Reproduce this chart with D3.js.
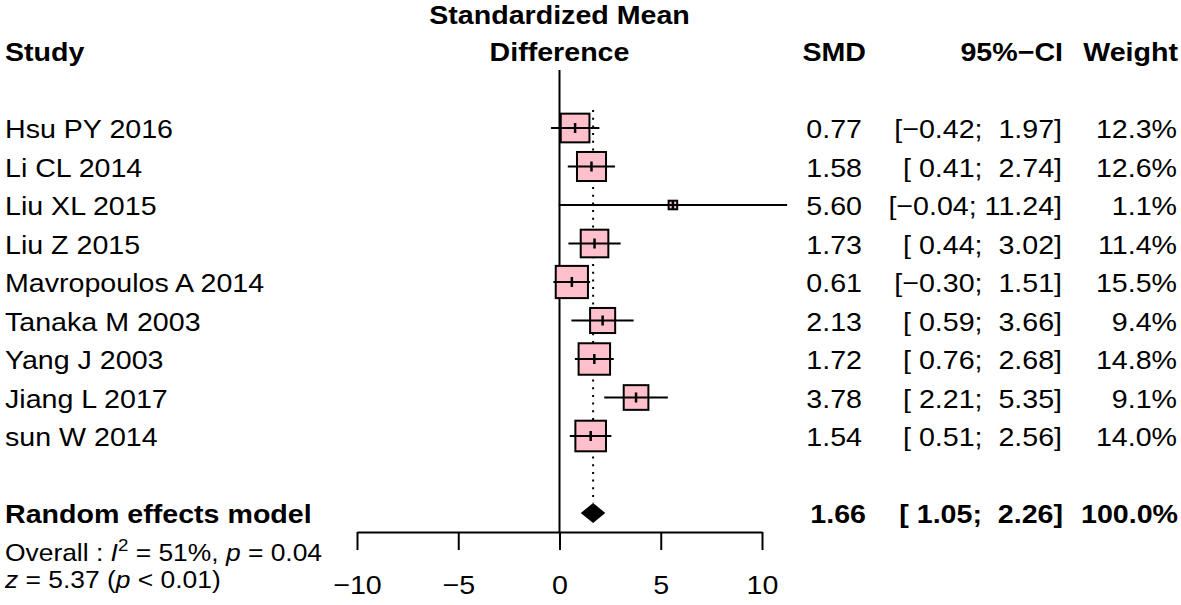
<!DOCTYPE html>
<html><head><meta charset="utf-8">
<script src="https://cdn.jsdelivr.net/npm/d3@7"></script>
<style>
body{margin:0;background:#fff;}
text{font-family:"Liberation Sans",Arial,Helvetica,sans-serif;white-space:pre;fill:#000;}
</style></head>
<body><svg id="c" width="1181" height="605"></svg>
<script>
const studies = ["Hsu PY 2016","Li CL 2014","Liu XL 2015","Liu Z 2015","Mavropoulos A 2014","Tanaka M 2003","Yang J 2003","Jiang L 2017","sun W 2014"];
const smd    = [0.77, 1.58, 5.60, 1.73, 0.61, 2.13, 1.72, 3.78, 1.54];
const lower  = [-0.42, 0.41, -0.04, 0.44, -0.30, 0.59, 0.76, 2.21, 0.51];
const upper  = [1.97, 2.74, 11.24, 3.02, 1.51, 3.66, 2.68, 5.35, 2.56];
const weight = [12.3, 12.6, 1.1, 11.4, 15.5, 9.4, 14.8, 9.1, 14.0];
const pooled = {label:"Random effects model", est:1.66, lo:1.05, hi:2.26, w:100.0};
const tickValues = [-10,-5,0,5,10];
const headers = {study:"Study", effect1:"Standardized Mean", effect2:"Difference", smd:"SMD", ci:"95%\u2212CI", weight:"Weight"};
const hetLine = ["Overall : ", "I", "2", " = 51%, ", "p", " = 0.04"];
const testLine = ["z", " = 5.37 (", "p", " < 0.01)"];

const svg = d3.select("#c");
const FS = 26, SX = 1.1;
const x = d3.scaleLinear().domain([-10,10]).range([357,762]);
const rowY = d3.scaleLinear().domain([0,1]).range([128,166.5]);
const boxK = 8.18;

const fmt = v => (v<0?"\u2212":"") + Math.abs(v).toFixed(2);
const pad = (s,n) => " ".repeat(Math.max(0,n-s.length)) + s;
const loLen = d3.max(lower.concat([pooled.lo]).map(v=>fmt(v).length));
const hiLen = d3.max(upper.concat([pooled.hi]).map(v=>fmt(v).length));
const ciStr = (l,h) => "[" + pad(fmt(l),loLen) + "; " + pad(fmt(h),hiLen) + "]";

function txt(xp, yp, s, anchor, bold, size){
  const g = svg.append("g").attr("transform",`translate(${xp},${yp}) scale(${SX},1)`);
  return g.append("text").attr("text-anchor",anchor||"start")
    .attr("font-size",size||FS).attr("font-weight",bold?"bold":"normal").text(s);
}

// headers
txt(5,61,headers.study,"start",true);
txt(x(0),24,headers.effect1,"middle",true);
txt(x(0),61,headers.effect2,"middle",true);
txt(866,61,headers.smd,"end",true);
txt(1063,61,headers.ci,"end",true);
txt(1178,61,headers.weight,"end",true);

// zero line
svg.append("line").attr("x1",x(0)).attr("x2",x(0)).attr("y1",70).attr("y2",532)
  .attr("stroke","#000").attr("stroke-width",2);
// pooled dotted line
svg.append("line").attr("x1",x(pooled.est)).attr("x2",x(pooled.est)).attr("y1",110).attr("y2",503)
  .attr("stroke","#000").attr("stroke-width",2).attr("stroke-dasharray","2,5.7");

// studies
studies.forEach((s,i)=>{
  const cy = rowY(i);
  const side = boxK*Math.sqrt(weight[i]);
  svg.append("rect").attr("x",x(smd[i])-side/2).attr("y",cy-side/2)
    .attr("width",side).attr("height",side).attr("fill","#FFC0CB")
    .attr("stroke","#000").attr("stroke-width",2);
  svg.append("line").attr("x1",x(lower[i])).attr("x2",x(upper[i])).attr("y1",cy).attr("y2",cy)
    .attr("stroke","#000").attr("stroke-width",2);
  svg.append("line").attr("x1",x(smd[i])).attr("x2",x(smd[i])).attr("y1",cy-5).attr("y2",cy+5)
    .attr("stroke","#000").attr("stroke-width",2.5);
  const by = cy+10;
  txt(5,by,s,"start",false);
  txt(862,by,smd[i].toFixed(2),"end",false);
  txt(1062,by,ciStr(lower[i],upper[i]),"end",false);
  txt(1177,by,weight[i].toFixed(1)+"%","end",false);
});

// pooled
const py = rowY(10);
svg.append("path").attr("d",`M${x(pooled.lo)},${py} L${x(pooled.est)},${py-10} L${x(pooled.hi)},${py} L${x(pooled.est)},${py+10} Z`)
  .attr("fill","#000");
txt(5,py+10,pooled.label,"start",true);
txt(866,py+10,pooled.est.toFixed(2),"end",true);
txt(1063,py+10,ciStr(pooled.lo,pooled.hi),"end",true);
txt(1178,py+10,pooled.w.toFixed(1)+"%","end",true);

// axis
const ax = svg.append("g").attr("transform","translate(0,532)")
  .call(d3.axisBottom(x).tickValues(tickValues).tickSize(18).tickSizeOuter(0).tickPadding(26)
    .tickFormat(d=>d<0?"\u2212"+Math.abs(d):String(d)));
ax.selectAll("path,line").attr("stroke","#000").attr("stroke-width",2);
ax.selectAll(".tick text").attr("font-size",FS).attr("fill","#000")
  .attr("font-family","'Liberation Sans',Arial,Helvetica,sans-serif")
  .attr("transform",`scale(${SX},1)`);

// heterogeneity lines
function mixed(xp,yp,parts,styles){
  const g = svg.append("g").attr("transform",`translate(${xp},${yp}) scale(${SX},1)`);
  const t = g.append("text").attr("font-size",24);
  parts.forEach((p,i)=>{
    const ts = t.append("tspan").text(p);
    if(styles[i]==="i") ts.attr("font-style","italic");
    if(styles[i]==="sup") ts.attr("font-size",17).attr("dy",-10);
    if(styles[i]==="after") ts.attr("dy",10);
  });
}
mixed(5,561,hetLine,["","i","sup","after","i",""]);
mixed(5,588,testLine,["i","","i",""]);
</script></body></html>
